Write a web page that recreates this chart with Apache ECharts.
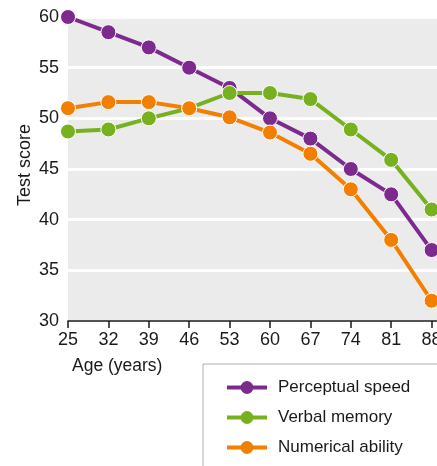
<!DOCTYPE html>
<html>
<head>
<meta charset="utf-8">
<script src="https://cdn.jsdelivr.net/npm/echarts@6/dist/echarts.min.js"></script>
<style>
html,body{margin:0;padding:0;background:#fff;}
#chart{width:437px;height:466px;}
</style>
</head>
<body>
<div id="chart"></div>
<script>
const ages = [25, 32, 39, 46, 53, 60, 67, 74, 81, 88];
const perceptualSpeed = [60, 58.5, 57, 55, 53, 50, 48, 45, 42.5, 37];
const verbalMemory = [48.7, 48.9, 50, 51, 52.5, 52.5, 51.9, 48.9, 45.9, 41];
const numericalAbility = [51, 51.6, 51.6, 51, 50.1, 48.6, 46.5, 43, 38, 32];
const seriesNames = ['Perceptual speed', 'Verbal memory', 'Numerical ability'];
const seriesColors = ['#7d2a8e', '#77b11f', '#f27f00'];

const FONT = 'Liberation Sans, Arial, Helvetica, sans-serif';
const chart = echarts.init(document.getElementById('chart'), null, {renderer: 'canvas'});

function mk(name, values, color) {
  return {
    name: name,
    type: 'line',
    data: ages.map((a, i) => [a, values[i]]),
    symbol: 'circle',
    symbolSize: 15,
    lineStyle: {color: color, width: 4},
    itemStyle: {color: color, borderColor: '#fff', borderWidth: 1},
    emphasis: {disabled: true},
    animation: false
  };
}

chart.setOption({
  animation: false,
  textStyle: {fontFamily: FONT},
  grid: {
    left: 68, right: -35, top: 17, bottom: 145,
    outerBoundsMode: 'none',
    containLabel: false,
    show: true, backgroundColor: '#ebebeb', borderWidth: 0
  },
  xAxis: {
    type: 'value',
    min: 25, max: 95, interval: 7,
    axisLine: {show: true, lineStyle: {color: '#1a1a1a', width: 1.5}},
    axisTick: {show: true, length: 7, lineStyle: {color: '#1a1a1a', width: 1.5}},
    axisLabel: {
      color: '#1a1a1a', fontSize: 18, fontFamily: FONT, margin: 10,
      formatter: v => (v > 88 ? '' : String(v))
    },
    splitLine: {show: false}
  },
  yAxis: {
    type: 'value',
    min: 30, max: 60, interval: 5,
    axisLine: {show: false},
    axisTick: {show: false},
    axisLabel: {color: '#1a1a1a', fontSize: 18, fontFamily: FONT, margin: 9},
    splitLine: {show: true, lineStyle: {color: '#ffffff', width: 3}}
  },
  legend: {
    data: seriesNames,
    orient: 'vertical',
    left: 203, top: 364,
    width: 300, height: 140,
    padding: [15, 80, 20, 22],
    borderColor: '#b0b0b0', borderWidth: 1,
    itemWidth: 40, itemHeight: 16, itemGap: 13,
    lineStyle: {width: 4},
    itemStyle: {borderWidth: 0},
    textStyle: {color: '#1a1a1a', fontSize: 17, fontFamily: FONT, padding: [0, 0, 0, 6]},
    selectedMode: false
  },
  graphic: [{
    type: 'text',
    left: 72, top: 357,
    style: {text: 'Age (years)', fill: '#1a1a1a', font: '17.5px ' + FONT}
  }, {
    type: 'text',
    x: 25, y: 165,
    rotation: Math.PI / 2,
    style: {text: 'Test score', fill: '#1a1a1a', font: '18px ' + FONT, align: 'center', verticalAlign: 'middle'}
  }],
  series: [
    mk(seriesNames[0], perceptualSpeed, seriesColors[0]),
    mk(seriesNames[1], verbalMemory, seriesColors[1]),
    mk(seriesNames[2], numericalAbility, seriesColors[2])
  ]
});
</script>
</body>
</html>
